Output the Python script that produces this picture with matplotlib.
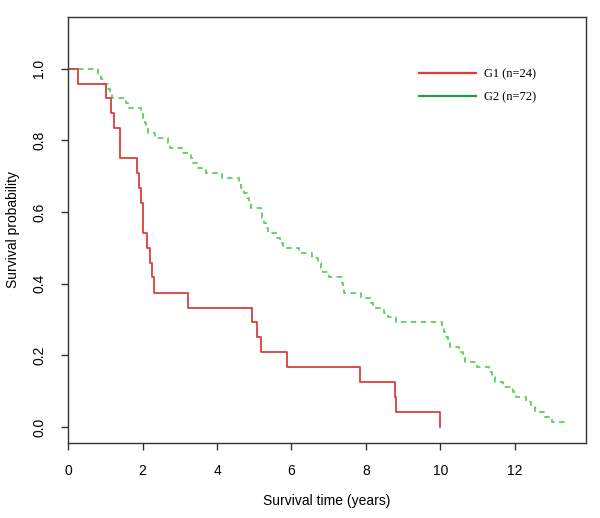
import matplotlib.pyplot as plt
from matplotlib.lines import Line2D

# G1 (n=24): event times and survival after each step
g1_time = [0.27, 1.01, 1.15, 1.23, 1.39, 1.85, 1.89, 1.95, 2.00, 2.12, 2.21,
           2.25, 2.30, 3.21, 4.93, 5.08, 5.17, 5.88, 7.84, 8.79, 8.81, 10.0]
g1_surv = [0.958, 0.917, 0.875, 0.833, 0.750, 0.708, 0.667, 0.625, 0.542, 0.500,
           0.458, 0.417, 0.375, 0.333, 0.292, 0.250, 0.208, 0.167, 0.125, 0.083,
           0.042, 0.0]
g1_end = 10.0

# G2 (n=72)
g2_time = [0.81, 0.88, 0.95, 1.06, 1.12, 1.18, 1.55, 1.62, 1.95, 2.00, 2.06,
           2.10, 2.15, 2.33, 2.69, 2.73, 3.05, 3.30, 3.36, 3.50, 3.70, 4.12,
           4.60, 4.65, 4.72, 4.80, 4.86, 4.90, 5.18, 5.22, 5.26, 5.32, 5.38,
           5.62, 5.70, 5.78, 6.20, 6.55, 6.72, 6.80, 6.84, 7.00, 7.36, 7.39,
           7.42, 7.86, 8.15, 8.20, 8.50, 8.60, 8.80, 10.05, 10.10, 10.13,
           10.20, 10.26, 10.50, 10.62, 10.66, 11.00, 11.30, 11.40, 11.47,
           11.70, 11.95, 12.05, 12.30, 12.45, 12.55, 12.80, 13.00]
g2_surv = [0.986, 0.972, 0.958, 0.944, 0.931, 0.917, 0.903, 0.889, 0.875, 0.861,
           0.847, 0.833, 0.819, 0.806, 0.792, 0.778, 0.764, 0.750, 0.736, 0.722,
           0.708, 0.694, 0.681, 0.667, 0.653, 0.639, 0.625, 0.611, 0.597, 0.583,
           0.569, 0.556, 0.542, 0.528, 0.514, 0.500, 0.486, 0.472, 0.458, 0.444,
           0.431, 0.417, 0.403, 0.389, 0.375, 0.361, 0.347, 0.333, 0.319, 0.306,
           0.292, 0.278, 0.264, 0.250, 0.236, 0.222, 0.208, 0.194, 0.181, 0.167,
           0.153, 0.139, 0.125, 0.111, 0.097, 0.083, 0.069, 0.056, 0.042, 0.028,
           0.014]
g2_end = 13.4

labels = ["G1 (n=24)", "G2 (n=72)"]
x_ticks = [0, 2, 4, 6, 8, 10, 12]
y_ticks = [0.0, 0.2, 0.4, 0.6, 0.8, 1.0]

plt.rcParams['font.family'] = ['Liberation Sans', 'DejaVu Sans']

fig = plt.figure(figsize=(6.0, 5.18), dpi=100)
ax = fig.add_axes([0.1138, 0.1454, 0.8629, 0.8218])

red = '#d9403e'
green = '#5ccf5c'


def km_steps(times, surv, end):
    xs = [0.0] + list(times) + [end]
    ys = [1.0] + list(surv) + [surv[-1]]
    return xs, ys


x1, y1 = km_steps(g1_time, g1_surv, g1_end)
x2, y2 = km_steps(g2_time, g2_surv, g2_end)
ax.step(x2, y2, where='post', color=green, lw=1.3, linestyle=(0, (3.0, 2.5)))
ax.step(x1, y1, where='post', color=red, lw=1.3)

ax.set_xlim(0, 13.92)
ax.set_ylim(-0.044, 1.144)
ax.set_xticks(x_ticks)
ax.set_xticklabels([str(t) for t in x_ticks])
ax.set_yticks(y_ticks)
ax.set_yticklabels([f"{t:.1f}" for t in y_ticks], rotation=90, va='center')
ax.tick_params(direction='out', length=5, width=1, colors='#333333',
               labelcolor='black', labelsize=10)
ax.tick_params(axis='x', pad=10)
ax.tick_params(axis='y', pad=11)
for s in ax.spines.values():
    s.set_color('#333333')
    s.set_linewidth(1)

ax.set_xlabel("Survival time (years)", fontsize=10, labelpad=12)
ax.set_ylabel("Survival probability", fontsize=10, labelpad=9)

handles = [Line2D([], [], color='#e03a3a', lw=1.6),
           Line2D([], [], color='#1f9e48', lw=1.6)]
ax.legend(handles, labels, loc='upper left', bbox_to_anchor=(0.655, 0.905),
          frameon=False, handlelength=4.6, handletextpad=0.6, labelspacing=0.85,
          prop={'family': 'Liberation Serif', 'size': 9})

fig.savefig('out.png', dpi=100)
